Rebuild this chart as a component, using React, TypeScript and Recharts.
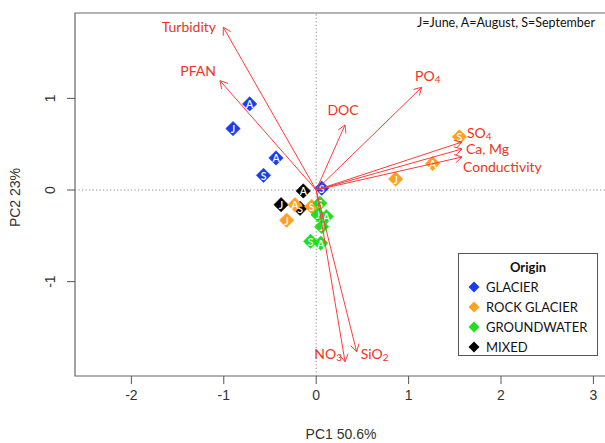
import React from 'react';
import { ScatterChart, Scatter, XAxis, YAxis, ReferenceLine, ReferenceArea } from 'recharts';

// ---- sample scores (PC1, PC2) and sampling month ----
const glacierPC1 = [-0.72, -0.9, -0.435, -0.57, 0.06];
const glacierPC2 = [0.94, 0.67, 0.35, 0.16, 0.02];
const glacierMonth = ['A', 'J', 'A', 'S', 'S'];

const rockPC1 = [1.55, 1.26, 0.86, -0.23, -0.05, -0.32];
const rockPC2 = [0.58, 0.29, 0.12, -0.16, -0.18, -0.33];
const rockMonth = ['S', 'A', 'J', 'A', 'S', 'J'];

const groundPC1 = [0.04, 0.02, 0.11, 0.06, -0.06, 0.05];
const groundPC2 = [-0.145, -0.27, -0.29, -0.4, -0.56, -0.58];
const groundMonth = ['S', 'J', 'A', 'J', 'S', 'A'];

const mixedPC1 = [-0.38, -0.175, -0.14];
const mixedPC2 = [-0.16, -0.2, -0.01];
const mixedMonth = ['J', 'S', 'A'];

// ---- variable loadings ----
const loadingNames = ['Turbidity', 'PFAN', 'DOC', 'PO4', 'SO4', 'Ca, Mg', 'Conductivity', 'NO3', 'SiO2'];
const loadingPC1 = [-1.005, -1.041, 0.312, 1.142, 1.578, 1.578, 1.578, 0.312, 0.438];
const loadingPC2 = [1.776, 1.193, 0.71, 1.121, 0.524, 0.448, 0.36, -1.874, -1.766];

// ---- axes ----
const xTicks = [-2, -1, 0, 1, 2, 3];
const yTicks = [-1, 0, 1];
const xDomain = [-2.61, 3.147];
const yDomain = [-2.03, 1.932];

// label placement (pixel offsets from arrow tip) - style only
const labelStyle: Record<string, { dx: number; dy: number; anchor: 'start' | 'middle' | 'end' }> = {
  Turbidity: { dx: -7.3, dy: -0.6, anchor: 'end' },
  PFAN: { dx: -4, dy: -10, anchor: 'end' },
  DOC: { dx: -2, dy: -15.7, anchor: 'middle' },
  PO4: { dx: -6.7, dy: -12.3, anchor: 'start' },
  SO4: { dx: 5, dy: -10, anchor: 'start' },
  'Ca, Mg': { dx: 4, dy: 0, anchor: 'start' },
  Conductivity: { dx: 1, dy: 9, anchor: 'start' },
  NO3: { dx: -3, dy: -8.7, anchor: 'end' },
  SiO2: { dx: 4, dy: 1.3, anchor: 'start' },
};

const BLUE = '#1a3cf2';
const ORANGE = '#ffa01e';
const GREEN = '#1ee01e';
const BLACK = '#000000';
const RED_TEXT = '#ef3224';
const RED_LINE = '#ff3a3a';

const toRows = (pc1: number[], pc2: number[], month: string[]) =>
  pc1.map((x, i) => ({ x, y: pc2[i], m: month[i] }));

const groupsLegend = [
  { name: 'GLACIER', color: BLUE },
  { name: 'ROCK GLACIER', color: ORANGE },
  { name: 'GROUNDWATER', color: GREEN },
  { name: 'MIXED', color: BLACK },
];

const diamond = (fill: string) => (props: any) => {
  const { cx, cy, payload } = props;
  if (cx == null || cy == null) return <g />;
  const r = 7.2;
  return (
    <g>
      <polygon
        points={`${cx},${cy - r} ${cx + r},${cy} ${cx},${cy + r} ${cx - r},${cy}`}
        fill={fill}
        stroke={fill}
        strokeWidth={0.6}
      />
      <text
        x={cx}
        y={cy + 0.5}
        textAnchor="middle"
        dominantBaseline="central"
        fill="#ffffff"
        fontFamily="Lato, sans-serif"
        fontSize={10.5}
        fontWeight={600}
      >
        {payload.m}
      </text>
    </g>
  );
};

const renderName = (name: string) => {
  const sub = (main: string, s: string) => (
    <>
      {main}
      <tspan fontSize={10} dy={4}>
        {s}
      </tspan>
    </>
  );
  if (name === 'PO4') return sub('PO', '4');
  if (name === 'SO4') return sub('SO', '4');
  if (name === 'NO3') return sub('NO', '3');
  if (name === 'SiO2') return sub('SiO', '2');
  return name;
};

const arrowShape = (name: string) => (props: any) => {
  const { x1, y1, x2, y2 } = props;
  const th = Math.atan2(y2 - y1, x2 - x1);
  const L = 8.5;
  const a = (30 * Math.PI) / 180;
  const hx1 = x2 - L * Math.cos(th - a);
  const hy1 = y2 - L * Math.sin(th - a);
  const hx2 = x2 - L * Math.cos(th + a);
  const hy2 = y2 - L * Math.sin(th + a);
  const ls = labelStyle[name];
  return (
    <g>
      <line x1={x1} y1={y1} x2={x2} y2={y2} stroke={RED_LINE} strokeWidth={1} />
      <polyline
        points={`${hx1},${hy1} ${x2},${y2} ${hx2},${hy2}`}
        fill="none"
        stroke={RED_LINE}
        strokeWidth={1}
      />
      <text
        x={x2 + ls.dx}
        y={y2 + ls.dy}
        textAnchor={ls.anchor}
        dominantBaseline="central"
        fill={RED_TEXT}
        fontFamily="Lato, sans-serif"
        fontSize={14}
      >
        {renderName(name)}
      </text>
    </g>
  );
};

const YTick = (props: any) => {
  const { x, y, payload } = props;
  return (
    <text
      x={x - 15}
      y={y}
      transform={`rotate(-90 ${x - 15} ${y})`}
      textAnchor="middle"
      dominantBaseline="central"
      fill="#333"
      fontFamily="'Liberation Sans', Arial, sans-serif"
      fontSize={14}
    >
      {payload.value}
    </text>
  );
};

export default function App() {
  return (
    <div
      style={{
        position: 'absolute',
        left: 0,
        top: 0,
        width: 605,
        height: 443,
        overflow: 'hidden',
        background: '#fff',
      }}
    >
      <ScatterChart width={620} height={443} margin={{ top: 13, right: 13, bottom: 0, left: 0 }}>
        <XAxis
          type="number"
          dataKey="x"
          domain={xDomain}
          ticks={xTicks}
          allowDataOverflow
          axisLine={false}
          tickLine={{ stroke: '#555' }}
          tickSize={8}
          tickMargin={6}
          height={67}
          tick={{ fill: '#333', fontSize: 14, fontFamily: "'Liberation Sans', Arial, sans-serif" }}
          label={{
            content: (p: any) => {
              const vb = p.viewBox || {};
              return (
                <text
                  x={vb.x + vb.width / 2}
                  y={434}
                  textAnchor="middle"
                  dominantBaseline="central"
                  fill="#333"
                  fontFamily="'Liberation Sans', Arial, sans-serif"
                  fontSize={14}
                >
                  PC1 50.6%
                </text>
              );
            },
          }}
        />
        <YAxis
          type="number"
          dataKey="y"
          domain={yDomain}
          ticks={yTicks}
          allowDataOverflow
          axisLine={false}
          tickLine={{ stroke: '#555' }}
          tickSize={8}
          tickMargin={2}
          width={75}
          tick={<YTick />}
          label={{
            content: (p: any) => {
              const vb = p.viewBox || {};
              const cy = vb.y + vb.height / 2 + 3;
              return (
                <text
                  x={15}
                  y={cy}
                  transform={`rotate(-90 15 ${cy})`}
                  textAnchor="middle"
                  dominantBaseline="central"
                  fill="#333"
                  fontFamily="'Liberation Sans', Arial, sans-serif"
                  fontSize={14}
                >
                  PC2 23%
                </text>
              );
            },
          }}
        />
        <ReferenceArea
          x1={xDomain[0]}
          x2={xDomain[1]}
          y1={yDomain[0]}
          y2={yDomain[1]}
          fill="none"
          fillOpacity={0}
          stroke="#666"
          strokeWidth={1.2}
          ifOverflow="visible"
        />
        <ReferenceLine x={0} stroke="#8a8a8a" strokeDasharray="1.2 2.3" strokeWidth={1} />
        <ReferenceLine y={0} stroke="#8a8a8a" strokeDasharray="1.2 2.3" strokeWidth={1} />
        <Scatter
          name="GLACIER"
          data={toRows(glacierPC1, glacierPC2, glacierMonth)}
          shape={diamond(BLUE)}
          isAnimationActive={false}
        />
        <Scatter
          name="MIXED"
          data={toRows(mixedPC1, mixedPC2, mixedMonth)}
          shape={diamond(BLACK)}
          isAnimationActive={false}
        />
        <Scatter
          name="ROCK GLACIER"
          data={toRows(rockPC1, rockPC2, rockMonth)}
          shape={diamond(ORANGE)}
          isAnimationActive={false}
        />
        <Scatter
          name="GROUNDWATER"
          data={toRows(groundPC1, groundPC2, groundMonth)}
          shape={diamond(GREEN)}
          isAnimationActive={false}
        />
        {loadingNames.map((name, i) => (
          <ReferenceLine
            key={name}
            segment={[
              { x: 0, y: 0 },
              { x: loadingPC1[i], y: loadingPC2[i] },
            ]}
            shape={arrowShape(name)}
            ifOverflow="visible"
            {...({ zIndex: 1500 } as any)}
          />
        ))}
      </ScatterChart>

      <div
        style={{
          position: 'absolute',
          left: 380,
          width: 215,
          top: 14,
          textAlign: 'right',
          fontFamily: 'Lato, sans-serif',
          fontSize: 12.5,
          lineHeight: '18px',
          color: '#111',
          whiteSpace: 'nowrap',
        }}
      >
        J=June, A=August, S=September
      </div>

      <div
        style={{
          position: 'absolute',
          left: 458,
          top: 253,
          width: 140,
          height: 103,
          border: '1px solid #555',
          boxSizing: 'border-box',
          fontFamily: 'Lato, sans-serif',
          fontSize: 13,
          color: '#111',
        }}
      >
        <div style={{ textAlign: 'center', fontWeight: 700, marginTop: 3, height: 20, lineHeight: '20px' }}>
          Origin
        </div>
        {groupsLegend.map((g) => (
          <div key={g.name} style={{ display: 'flex', alignItems: 'center', height: 20, lineHeight: '20px', paddingLeft: 9 }}>
            <svg width={12} height={12} style={{ marginRight: 6 }}>
              <polygon points="6,0.5 11.5,6 6,11.5 0.5,6" fill={g.color} />
            </svg>
            <span>{g.name}</span>
          </div>
        ))}
      </div>
    </div>
  );
}
